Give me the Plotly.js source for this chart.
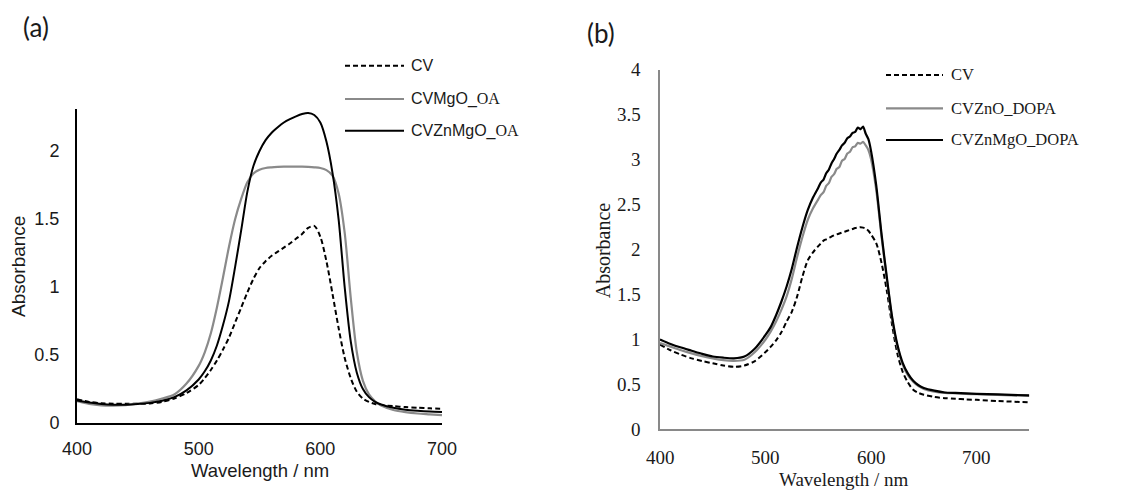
<!DOCTYPE html>
<html>
<head>
<meta charset="utf-8">
<script src="https://cdn.plot.ly/plotly-3.0.1.min.js"></script>
<style>html,body{margin:0;padding:0;background:#fff;}#chart{width:1139px;height:493px;}</style>
</head>
<body>
<div id="chart"></div>
<script>
// ---------- Panel (a) data ----------
const waveA = [400,410,420,430,440,450,460,470,480,490,500,505,510,515,520,525,530,535,540,545,550,555,560,565,570,575,580,585,590,595,600,605,610,615,620,625,630,635,640,645,650,660,670,680,690,700];
const cvA = [0.175,0.155,0.146,0.142,0.141,0.141,0.144,0.156,0.18,0.22,0.28,0.33,0.39,0.46,0.54,0.63,0.74,0.85,0.96,1.06,1.14,1.19,1.23,1.26,1.29,1.32,1.355,1.39,1.435,1.45,1.37,1.19,0.95,0.70,0.48,0.33,0.23,0.18,0.155,0.14,0.132,0.124,0.117,0.112,0.108,0.105];
const cvMgO_OA = [0.16,0.14,0.13,0.128,0.132,0.142,0.157,0.18,0.21,0.29,0.42,0.52,0.66,0.85,1.07,1.30,1.50,1.65,1.77,1.835,1.862,1.875,1.88,1.883,1.885,1.886,1.886,1.885,1.883,1.88,1.875,1.86,1.82,1.69,1.40,0.92,0.52,0.31,0.21,0.16,0.128,0.096,0.08,0.07,0.064,0.058];
const cvZnMgO_OA = [0.165,0.15,0.14,0.135,0.135,0.14,0.148,0.163,0.19,0.24,0.32,0.38,0.46,0.57,0.72,0.90,1.15,1.42,1.70,1.89,2.00,2.08,2.135,2.175,2.21,2.235,2.255,2.272,2.28,2.265,2.21,2.07,1.84,1.50,1.00,0.60,0.37,0.25,0.19,0.156,0.136,0.112,0.098,0.09,0.084,0.08];
const namesA = ["CV","CVMgO_OA","CVZnMgO_OA"];
const xTicksA = [400,500,600,700];
const yTicksA = [0,0.5,1,1.5,2];
const yTickTextA = ["0","0.5","1","1.5","2"];

// ---------- Panel (b) data ----------
const waveB = [400,410,420,430,440,450,460,470,480,490,500,505,510,515,520,525,530,535,540,545,550,552.5,555,557.5,560,562.5,565,567.5,570,572.5,575,577.5,580,582.5,585,587.5,590,592.5,595,597.5,600,605,610,615,620,625,630,635,640,645,650,660,670,680,690,700,720,750];
const cvB = [0.943,0.88,0.83,0.79,0.76,0.735,0.71,0.695,0.71,0.76,0.86,0.92,0.99,1.08,1.2,1.31,1.48,1.7,1.88,1.97,2.04,2.07,2.10,2.115,2.13,2.145,2.16,2.17,2.18,2.19,2.20,2.21,2.22,2.23,2.24,2.245,2.25,2.245,2.235,2.21,2.17,2.07,1.85,1.54,1.16,0.84,0.64,0.52,0.44,0.405,0.385,0.36,0.347,0.34,0.333,0.328,0.315,0.30];
const cvZnO_DOPA = [0.96,0.92,0.88,0.845,0.815,0.79,0.77,0.762,0.775,0.86,1.0,1.09,1.2,1.33,1.48,1.68,1.92,2.14,2.33,2.46,2.56,2.61,2.64,2.71,2.74,2.81,2.84,2.90,2.92,2.99,3.01,3.07,3.09,3.14,3.15,3.19,3.18,3.20,3.16,3.11,3.01,2.66,2.14,1.67,1.23,0.92,0.72,0.60,0.53,0.48,0.45,0.42,0.405,0.40,0.395,0.39,0.383,0.372];
const cvZnMgO_DOPA = [1.0,0.95,0.91,0.875,0.84,0.81,0.797,0.79,0.81,0.90,1.05,1.14,1.27,1.42,1.59,1.79,2.03,2.25,2.44,2.58,2.69,2.75,2.78,2.85,2.89,2.96,3.01,3.07,3.11,3.16,3.19,3.24,3.26,3.30,3.31,3.36,3.34,3.37,3.29,3.23,3.10,2.71,2.17,1.69,1.25,0.94,0.74,0.62,0.54,0.49,0.46,0.43,0.41,0.405,0.40,0.395,0.388,0.377];
const namesB = ["CV","CVZnO_DOPA","CVZnMgO_DOPA"];
const xTicksB = [400,500,600,700];
const yTicksB = [0,0.5,1,1.5,2,2.5,3,3.5,4];
const yTickTextB = ["0","0.5","1","1.5","2","2.5","3","3.5","4"];

// ---------- Styling ----------
const W = 1139, H = 493;
const px = v => v / W;
const py = v => 1 - v / H;
const SANS = "Liberation Sans";
const SERIF = "Liberation Serif";
const GRAY = "#8a8a8a";
const TXT = "#1a1a1a";
const DASH = "5px,3px";

const traces = [
  {x: waveA, y: cvA, name: namesA[0], xaxis: "x", yaxis: "y", mode: "lines", line: {color: "#000", width: 2, dash: DASH, shape: "spline", smoothing: 0.8}, showlegend: false},
  {x: waveA, y: cvMgO_OA, name: namesA[1], xaxis: "x", yaxis: "y", mode: "lines", line: {color: GRAY, width: 2.2, shape: "spline", smoothing: 0.8}, showlegend: false},
  {x: waveA, y: cvZnMgO_OA, name: namesA[2], xaxis: "x", yaxis: "y", mode: "lines", line: {color: "#000", width: 2, shape: "spline", smoothing: 0.8}, showlegend: false},
  {x: waveB, y: cvB, name: namesB[0], xaxis: "x2", yaxis: "y2", mode: "lines", line: {color: "#000", width: 2, dash: DASH, shape: "spline", smoothing: 0.8}, showlegend: false},
  {x: waveB, y: cvZnO_DOPA, name: namesB[1], xaxis: "x2", yaxis: "y2", mode: "lines", line: {color: GRAY, width: 2.2, shape: "spline", smoothing: 0.6}, showlegend: false},
  {x: waveB, y: cvZnMgO_DOPA, name: namesB[2], xaxis: "x2", yaxis: "y2", mode: "lines", line: {color: "#000", width: 2.2, shape: "spline", smoothing: 0.6}, showlegend: false}
];

function axisCommon(color) {
  return {showline: true, linecolor: color, linewidth: 2, showgrid: false, zeroline: false,
          ticks: "", tickmode: "array", fixedrange: true};
}

const layout = {
  width: W, height: H,
  margin: {l: 0, r: 0, t: 0, b: 0},
  paper_bgcolor: "#fff", plot_bgcolor: "#fff",
  font: {family: SANS, size: 18, color: TXT},
  showlegend: false,
  xaxis: Object.assign(axisCommon("#000"), {domain: [px(77), px(442)], range: [400, 700], anchor: "y", tickvals: xTicksA, ticktext: xTicksA.map(String), tickfont: {family: SANS, size: 18, color: TXT}, ticklabelstandoff: 8}),
  yaxis: Object.assign(axisCommon("#000"), {domain: [py(423), py(109.3)], range: [0, 2.307], anchor: "x", tickvals: yTicksA, ticktext: yTickTextA, tickfont: {family: SANS, size: 18, color: TXT}, ticklabelstandoff: 12}),
  xaxis2: Object.assign(axisCommon("#898989"), {domain: [px(660), px(1029.3)], range: [400, 750], anchor: "y2", tickvals: xTicksB, showticklabels: false}),
  yaxis2: Object.assign(axisCommon("#898989"), {domain: [py(429.3), py(70)], range: [0, 4], anchor: "x2", tickvals: yTicksB, showticklabels: false}),
  shapes: [],
  annotations: []
};

// panel (b) tick labels in serif, positioned through the axis scales
xTicksB.forEach(v => layout.annotations.push({xref: "x2", yref: "paper", x: v, y: py(457), text: String(v), showarrow: false,
  font: {family: SERIF, size: 19, color: TXT}, xanchor: "center", yanchor: "middle"}));
yTicksB.forEach((v, i) => layout.annotations.push({xref: "paper", yref: "y2", x: px(643), y: v, text: yTickTextB[i], showarrow: false,
  font: {family: SERIF, size: 19, color: TXT}, xanchor: "right", yanchor: "middle"}));

// axis titles & panel labels
const ann = (x, y, text, font, extra) => Object.assign({xref: "paper", yref: "paper", x: px(x), y: py(y), text: text, showarrow: false, font: font, xanchor: "center", yanchor: "middle"}, extra || {});
layout.annotations.push(ann(18.3, 266.7, "Absorbance", {family: SANS, size: 19, color: TXT}, {textangle: -90}));
layout.annotations.push(ann(259.7, 470.5, "Wavelength / nm", {family: SANS, size: 18.5, color: TXT}));
layout.annotations.push(ann(603.3, 250, "Absorbance", {family: SERIF, size: 20, color: TXT}, {textangle: -90}));
layout.annotations.push(ann(844.5, 479.5, "Wavelength / nm", {family: SERIF, size: 19, color: TXT}));
layout.annotations.push(ann(21, 27, "(a)", {family: "Lato", size: 26, color: TXT}, {xanchor: "left"}));
layout.annotations.push(ann(585, 33, "(b)", {family: "Lato", size: 26, color: TXT}, {xanchor: "left"}));

// legends (drawn as shapes + text)
const legA = [
  {y: 65.7, color: "#000", dash: DASH, w: 2, text: "CV"},
  {y: 99.0, color: GRAY, dash: "solid", w: 2.2, text: "CVMgO_<span style=\"font-family:'Liberation Serif'\">OA</span>"},
  {y: 130.7, color: "#000", dash: "solid", w: 2, text: "CVZnMgO_<span style=\"font-family:'Liberation Serif'\">OA</span>"}
];
legA.forEach(it => {
  layout.shapes.push({type: "line", xref: "paper", yref: "paper", x0: px(345), x1: px(404), y0: py(it.y), y1: py(it.y), line: {color: it.color, width: it.w, dash: it.dash}});
  layout.annotations.push(ann(409, it.y, it.text, {family: SANS, size: 16, color: TXT}, {xanchor: "left"}));
});
const legB = [
  {y: 75, color: "#000", dash: DASH, w: 2, text: namesB[0]},
  {y: 108.3, color: GRAY, dash: "solid", w: 2.2, text: namesB[1]},
  {y: 140, color: "#000", dash: "solid", w: 2.2, text: namesB[2]}
];
legB.forEach(it => {
  layout.shapes.push({type: "line", xref: "paper", yref: "paper", x0: px(886), x1: px(943), y0: py(it.y), y1: py(it.y), line: {color: it.color, width: it.w, dash: it.dash}});
  layout.annotations.push(ann(949, it.y, it.text, {family: SERIF, size: 16.5, color: TXT}, {xanchor: "left"}));
});

Plotly.newPlot("chart", traces, layout, {staticPlot: true, displayModeBar: false});
</script>
</body>
</html>
